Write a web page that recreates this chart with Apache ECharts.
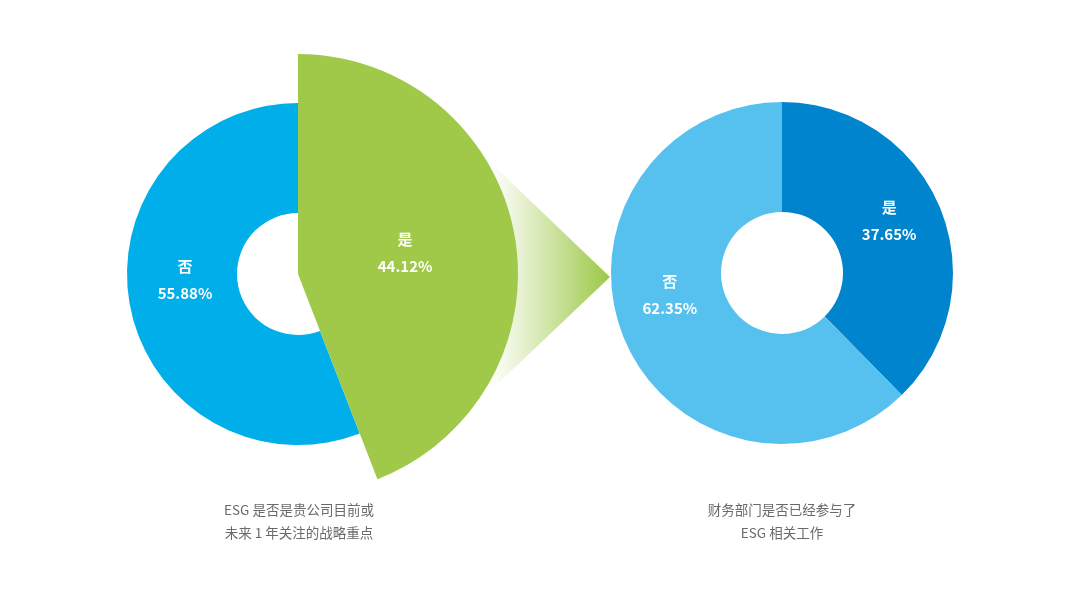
<!DOCTYPE html>
<html>
<head>
<meta charset="utf-8">
<script src="https://cdn.jsdelivr.net/npm/echarts@6/dist/echarts.min.js"></script>
<style>
html,body{margin:0;padding:0;background:#fff;}
#chart{width:1080px;height:607px;}
</style>
</head>
<body>
<div id="chart"></div>
<script>
// 数据
var names = ['是', '否'];
var leftValues = [44.12, 55.88];
var rightValues = [37.65, 62.35];
var leftTitle = 'ESG 是否是贵公司目前或\n未来 1 年关注的战略重点';
var rightTitle = '财务部门是否已经参与了\nESG 相关工作';

var blue = '#00aeea', green = '#a0c94a';
var lightBlue = '#56c1ee', darkBlue = '#0084cd';
var font = '"Noto Sans CJK SC", "Noto Sans", sans-serif';

function labelFmt(p) {
	return p.name + '\n' + p.value.toFixed(2) + '%';
}
var labelStyle = {
	show: true, position: 'inside', formatter: labelFmt,
	color: '#fff', fontSize: 15, fontWeight: 'bold', fontFamily: font, lineHeight: 27
};
var hidden = { show: false };

function mkData(vals, colors, showMask) {
	var arr = [];
	for (var i = 0; i < vals.length; i++) {
		var d = { name: names[i], value: vals[i], itemStyle: { color: colors[i] } };
		if (!showMask[i]) {
			d.itemStyle = { color: 'rgba(0,0,0,0)' };
			d.label = hidden;
		}
		arr.push(d);
	}
	return arr;
}

var titleStyle = { color: '#6a6a6a', fontSize: 13.5, fontWeight: 'normal', fontFamily: font, lineHeight: 23 };

var myChart = echarts.init(document.getElementById('chart'));
var option = {
	backgroundColor: '#fff',
	animation: false,
	title: [
		{ text: leftTitle, left: 294, top: 493, textAlign: 'center', textStyle: titleStyle },
		{ text: rightTitle, left: 777, top: 493, textAlign: 'center', textStyle: titleStyle }
	],
	graphic: [{
		type: 'polygon', z: 0,
		shape: { points: [[470, 143], [610, 277], [470, 410]] },
		style: {
			fill: new echarts.graphic.LinearGradient(0, 0, 1, 0, [
				{ offset: 0.15, color: 'rgba(160,201,74,0)' },
				{ offset: 1, color: 'rgba(156,200,70,1)' }
			])
		}
	}],
	series: [
		{	// 左：蓝色环
			type: 'pie', z: 3, center: [298, 274], radius: [61, 171],
			startAngle: 90, clockwise: true, silent: true,
			label: labelStyle, labelLine: hidden,
			labelLayout: { dx: 4, dy: -16 },
			data: mkData(leftValues, [green, blue], [false, true])
		},
		{	// 左：突出的绿色扇形
			type: 'pie', z: 4, center: [298, 274], radius: [0, 220],
			startAngle: 90, clockwise: true, silent: true,
			label: labelStyle, labelLine: hidden,
			labelLayout: { dx: -4, dy: 0 },
			data: mkData(leftValues, [green, blue], [true, false])
		},
		{	// 右
			type: 'pie', z: 3, center: [782, 273], radius: [61, 171],
			startAngle: 90, clockwise: true, silent: true,
			label: labelStyle, labelLine: hidden,
			labelLayout: function (p) {
				return p.dataIndex === 0 ? { dx: -3, dy: -7 } : { dx: -2, dy: -23 };
			},
			data: mkData(rightValues, [darkBlue, lightBlue], [true, true])
		}
	]
};
myChart.setOption(option);
</script>
</body>
</html>
